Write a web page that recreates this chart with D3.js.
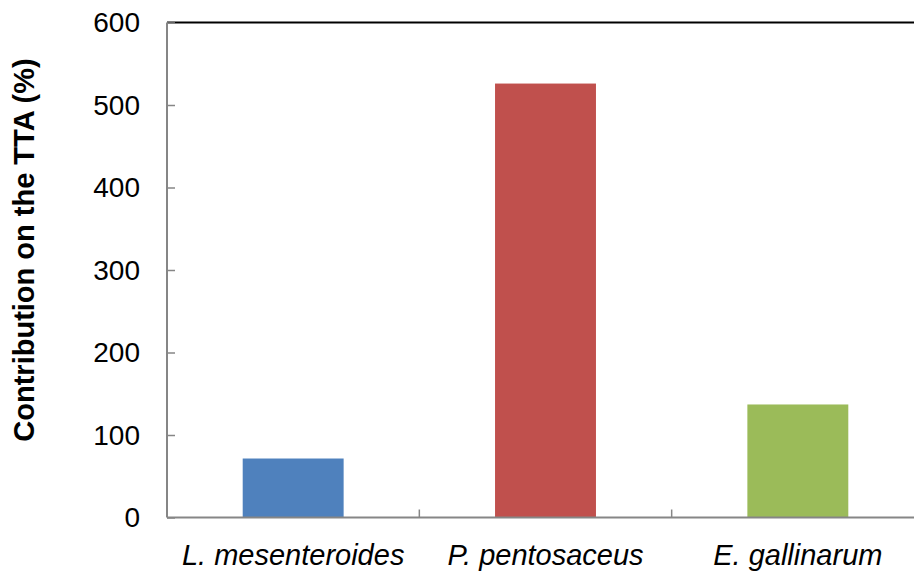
<!DOCTYPE html>
<html>
<head>
<meta charset="utf-8">
<script src="https://cdn.jsdelivr.net/npm/d3@7"></script>
<style>
  body { margin: 0; background: #fff; }
  text { font-family: "Liberation Sans", Arial, sans-serif; fill: #000; }
</style>
</head>
<body>
<div id="chart"></div>
<script>
// chart data
var categories = ["L. mesenteroides", "P. pentosaceus", "E. gallinarum"];
var values = [71.5, 526, 137];
var colors = ["#4f81bd", "#c0504d", "#9bbb59"];
var yTicks = [0, 100, 200, 300, 400, 500, 600];

var width = 914, height = 573;
var margin = {top: 22, left: 167, bottom: 55};
var plotRight = 924; // plot area runs past the right edge, as in the picture

var svg = d3.select("#chart")
  .append("svg")
  .attr("width", width)
  .attr("height", height);

var x = d3.scaleBand()
  .domain(categories)
  .range([margin.left, plotRight])
  .paddingInner(0.6)
  .paddingOuter(0.3);

var y = d3.scaleLinear()
  .domain([0, 600])
  .range([height - margin.bottom - 0.5, margin.top + 0.5]);

// bars
svg.append("g")
  .selectAll("rect")
  .data(values)
  .enter()
  .append("rect")
  .attr("x", function(d, i) { return x(categories[i]); })
  .attr("width", x.bandwidth())
  .attr("y", function(d) { return y(d); })
  .attr("height", function(d) { return y(0) - y(d); })
  .style("fill", function(d, i) { return colors[i]; });

// top border
svg.append("line")
  .attr("x1", margin.left).attr("x2", width)
  .attr("y1", y(600)).attr("y2", y(600))
  .style("stroke", "#000")
  .style("stroke-width", 2);

// y axis
var yAxis = svg.append("g")
  .attr("transform", "translate(" + margin.left + ",0)")
  .call(d3.axisRight(y).tickValues(yTicks).tickSize(8).tickFormat(""));
yAxis.select(".domain").style("stroke", "#868686").style("stroke-width", 2)
  .attr("d", "M0," + y(0) + "V" + y(600));
yAxis.selectAll(".tick line").style("stroke", "#868686").style("stroke-width", 1.5);

svg.append("g")
  .selectAll("text")
  .data(yTicks)
  .enter()
  .append("text")
  .attr("x", 140)
  .attr("y", function(d) { return y(d); })
  .attr("dy", "0.35em")
  .attr("text-anchor", "end")
  .style("font-size", "28px")
  .text(function(d) { return d; });

// x axis with ticks between categories
var boundaries = d3.range(0, categories.length + 1).map(function(i) { return margin.left + i * (plotRight - margin.left) / categories.length; });
var xAxisG = svg.append("g");
xAxisG.append("line")
  .attr("x1", margin.left).attr("x2", width)
  .attr("y1", y(0)).attr("y2", y(0))
  .style("stroke", "#868686")
  .style("stroke-width", 2);
xAxisG.selectAll(".xt")
  .data(boundaries.slice(1, categories.length))
  .enter()
  .append("line")
  .attr("x1", function(d) { return d; }).attr("x2", function(d) { return d; })
  .attr("y1", y(0)).attr("y2", y(0) - 8)
  .style("stroke", "#868686")
  .style("stroke-width", 1.5);

svg.append("g")
  .selectAll("text")
  .data(categories)
  .enter()
  .append("text")
  .attr("x", function(d) { return x(d) + x.bandwidth() / 2; })
  .attr("y", 565)
  .attr("text-anchor", "middle")
  .style("font-size", "29px")
  .style("font-style", "italic")
  .text(function(d) { return d; });

// y axis title
svg.append("text")
  .attr("transform", "translate(34,250) rotate(-90)")
  .attr("text-anchor", "middle")
  .style("font-size", "29px")
  .style("font-weight", "bold")
  .text("Contribution on the TTA (%)");
</script>
</body>
</html>
